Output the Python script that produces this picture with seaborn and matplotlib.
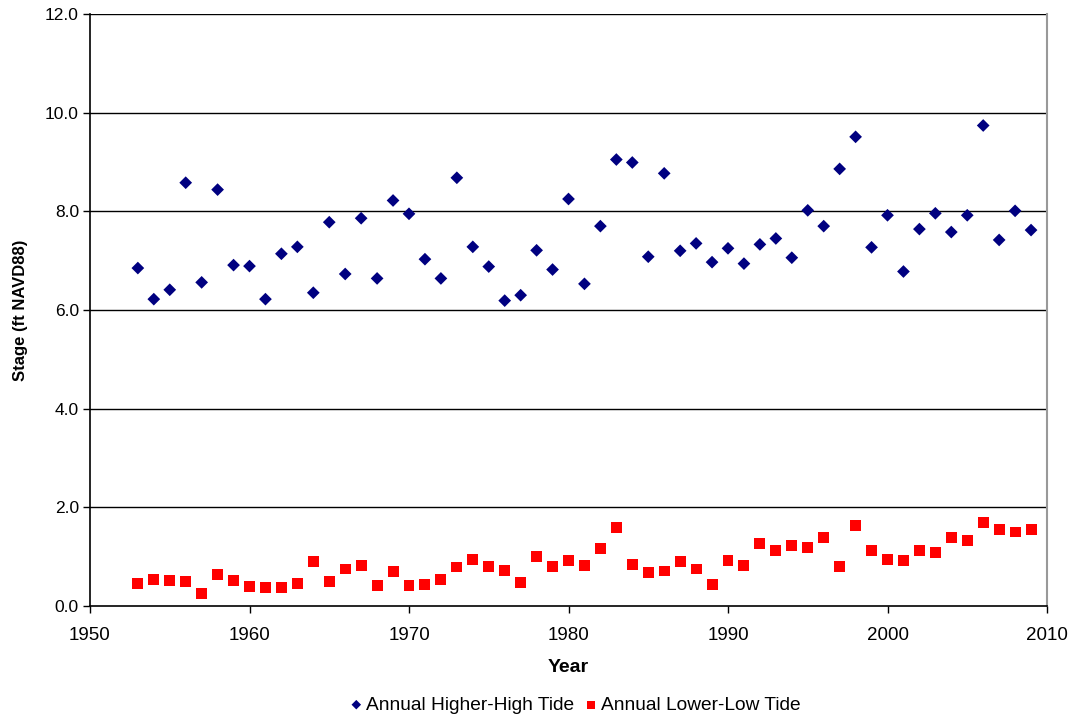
import numpy as np
import pandas as pd
import matplotlib
matplotlib.use("Agg")
import matplotlib.pyplot as plt
import seaborn as sns

years = list(range(1953, 2010))
higher_high = [6.85, 6.22, 6.41, 8.58, 6.56, 8.44, 6.91, 6.89, 6.22, 7.14,
               7.28, 6.35, 7.78, 6.73, 7.86, 6.64, 8.22, 7.95, 7.03, 6.64,
               8.68, 7.28, 6.88, 6.19, 6.30, 7.21, 6.82, 8.25, 6.53, 7.70,
               9.05, 8.99, 7.08, 8.77, 7.20, 7.35, 6.97, 7.25, 6.94, 7.33,
               7.45, 7.06, 8.02, 7.70, 8.86, 9.51, 7.27, 7.92, 6.78, 7.64,
               7.96, 7.58, 7.92, 9.74, 7.42, 8.01, 7.62]
lower_low = [0.45, 0.53, 0.52, 0.49, 0.26, 0.64, 0.52, 0.40, 0.38, 0.37,
             0.45, 0.91, 0.49, 0.75, 0.82, 0.41, 0.70, 0.42, 0.43, 0.53,
             0.79, 0.95, 0.80, 0.72, 0.47, 1.01, 0.80, 0.93, 0.82, 1.16,
             1.59, 0.84, 0.67, 0.71, 0.91, 0.75, 0.44, 0.92, 0.82, 1.27,
             1.12, 1.22, 1.19, 1.38, 0.80, 1.63, 1.13, 0.95, 0.93, 1.13,
             1.09, 1.38, 1.32, 1.70, 1.56, 1.50, 1.55]
series_names = ["Annual Higher-High Tide", "Annual Lower-Low Tide"]
x_ticks = [1950, 1960, 1970, 1980, 1990, 2000, 2010]
y_ticks = [0, 2, 4, 6, 8, 10, 12]

sns.set_style("white")
plt.rcParams['font.family'] = ['Liberation Sans', 'DejaVu Sans']
plt.rcParams['text.color'] = 'black'
plt.rcParams['axes.labelcolor'] = 'black'

df_hi = pd.DataFrame({"Year": years, "Stage": higher_high})
df_lo = pd.DataFrame({"Year": years, "Stage": lower_low})

W, H = 1073, 721
fig = plt.figure(figsize=(W / 100, H / 100), dpi=100)
ax = fig.add_axes([90 / W, 1 - 606 / H, (1047 - 90) / W, (606 - 14) / H])

for y in y_ticks[1:]:
    ax.axhline(y, color="black", lw=1.0, zorder=1)

sns.scatterplot(data=df_hi, x="Year", y="Stage", marker="D", s=42,
                color="#000080", edgecolor="none", ax=ax, zorder=3,
                label=series_names[0])
sns.scatterplot(data=df_lo, x="Year", y="Stage", marker="s", s=62,
                color="#FF0000", edgecolor="none", ax=ax, zorder=3,
                label=series_names[1])

ax.set_xlim(1950, 2010)
ax.set_ylim(0, 12)
ax.set_xticks(x_ticks)
ax.set_yticks(y_ticks)
ax.set_yticklabels([f"{v:.1f}" for v in y_ticks])
ax.tick_params(axis="both", direction="out", length=5, width=1,
               colors="black", bottom=True, left=True)
ax.tick_params(axis="x", pad=10, labelsize=13.5)
ax.tick_params(axis="y", pad=3, labelsize=12.5)
for side in ["left", "bottom"]:
    ax.spines[side].set_color("black")
    ax.spines[side].set_linewidth(1.2)
ax.spines["top"].set_visible(False)
ax.spines["right"].set_color("#999999")
ax.spines["right"].set_linewidth(1.5)

ax.set_xlabel("Year", fontsize=14, fontweight="bold", labelpad=11)
ax.set_ylabel("Stage (ft NAVD88)", fontsize=12, fontweight="bold", labelpad=12)

handles, labels = ax.get_legend_handles_labels()
ax.get_legend().remove()
fig.legend(handles, labels, loc="center", bbox_to_anchor=(575.5 / W, 1 - 705 / H),
           ncol=2, frameon=False, fontsize=13.8, handlelength=0.6,
           handletextpad=0.2, columnspacing=0.6, markerscale=0.75,
           borderpad=0, borderaxespad=0)

fig.savefig("out.png", dpi=100)
